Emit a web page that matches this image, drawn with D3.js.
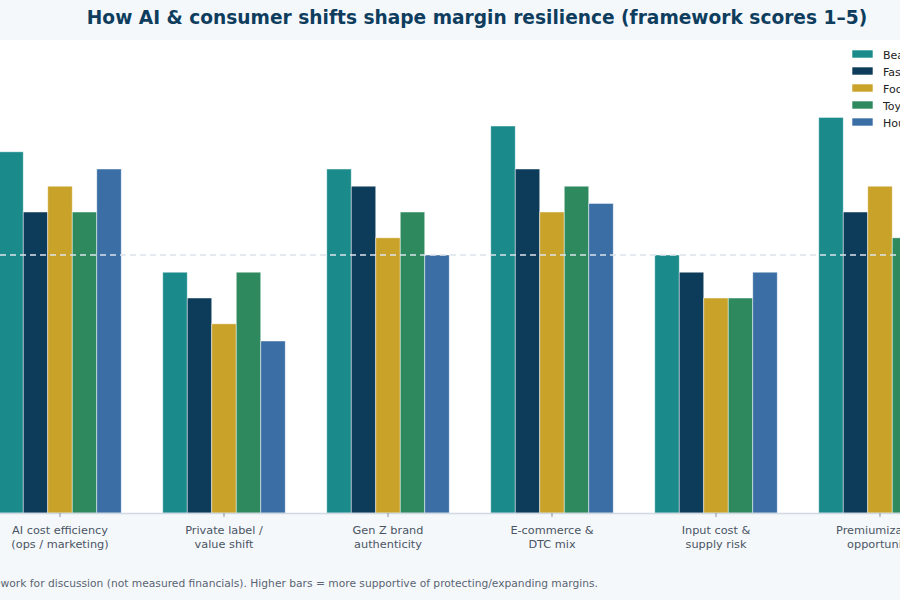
<!DOCTYPE html>
<html lang="en">
<head>
<meta charset="utf-8">
<title>Margin resilience framework</title>
<script src="https://d3js.org/d3.v7.min.js"></script>
<style>
  body { margin: 0; background: #f5f8fb; }
  svg { display: block; font-family: "DejaVu Sans", sans-serif; }
  .axis path { stroke: #cfd8e3; }
  .axis line { stroke: #8a939e; }
  .axis text { fill: #4a5563; font-size: 11.3px; font-family: "DejaVu Sans", sans-serif; }
</style>
</head>
<body>
<div id="chart"></div>
<script>
// categories (two-line tick labels)
const factors = [
  ["AI cost efficiency", "(ops / marketing)"],
  ["Private label /", "value shift"],
  ["Gen Z brand", "authenticity"],
  ["E-commerce &", "DTC mix"],
  ["Input cost &", "supply risk"],
  ["Premiumization", "opportunity"]
];
const sectors = ["Beauty & personal care", "Fashion & apparel", "Food & beverage", "Toys & games", "Household goods"];
const colors = ["#1b8a8a", "#0d3b5a", "#c9a22a", "#2e8a5e", "#3b6ea5"];

// scores per sector, in factor order
const beauty  = [4.2, 2.8, 4.0, 4.5, 3.0, 4.6];
const fashion = [3.5, 2.5, 3.8, 4.0, 2.8, 3.5];
const food    = [3.8, 2.2, 3.2, 3.5, 2.5, 3.8];
const toys    = [3.5, 2.8, 3.5, 3.8, 2.5, 3.2];
const home    = [4.0, 2.0, 3.0, 3.6, 2.8, 3.5];
const series = [beauty, fashion, food, toys, home];

const neutral = 3;

const width = 900, height = 600;
const plotTop = 40, plotBottom = 513;

const svg = d3.select("#chart").append("svg")
  .attr("width", width).attr("height", height);

// plot area background
svg.append("rect")
  .attr("x", 0).attr("y", plotTop)
  .attr("width", width).attr("height", plotBottom - plotTop)
  .attr("fill", "#ffffff");

const keys = factors.map(d => d.join(" "));

const x0 = d3.scaleBand()
  .domain(keys)
  .range([-22, 962])
  .paddingInner(0.253)
  .paddingOuter(0.1265);

const x1 = d3.scaleBand()
  .domain(d3.range(sectors.length))
  .range([0, x0.bandwidth()]);

const y = d3.scaleLinear()
  .domain([0, 5.5])
  .range([plotBottom, plotTop]);

// bars
const groups = svg.append("g").selectAll("g")
  .data(keys)
  .join("g")
  .attr("transform", d => `translate(${x0(d)},0)`);

groups.selectAll("rect")
  .data((d, i) => series.map((s, j) => ({ j, v: s[i] })))
  .join("rect")
  .attr("x", d => x1(d.j))
  .attr("width", x1.bandwidth())
  .attr("y", d => y(d.v))
  .attr("height", d => y(0) - y(d.v))
  .attr("fill", d => colors[d.j])
  .attr("stroke", "#ffffff")
  .attr("stroke-opacity", 0.6)
  .attr("stroke-width", 0.8);

// neutral reference line
svg.append("line")
  .attr("x1", 0).attr("x2", width)
  .attr("y1", y(neutral)).attr("y2", y(neutral))
  .attr("stroke", "#dde4ec")
  .attr("stroke-width", 1.3)
  .attr("stroke-dasharray", "6,4");

// x axis
const xAxis = svg.append("g")
  .attr("class", "axis")
  .attr("font-family", null)
  .attr("transform", `translate(0,${plotBottom})`)
  .call(d3.axisBottom(x0).tickSize(4).tickSizeOuter(0));

xAxis.select(".domain").attr("stroke", "#cfd8e3").attr("stroke-width", 1.5);
xAxis.selectAll(".tick text").each(function(d, i) {
  const t = d3.select(this).text(null).attr("y", 13);
  factors[i].forEach((line, k) => {
    t.append("tspan").attr("x", 0).attr("dy", k === 0 ? "0.71em" : "1.2em").text(line);
  });
});

// legend
const legend = svg.append("g").attr("transform", "translate(852,49)");
sectors.forEach((s, i) => {
  const row = legend.append("g").attr("transform", `translate(0,${i * 17})`);
  row.append("rect").attr("width", 21).attr("height", 8).attr("y", 1)
    .attr("fill", colors[i]).attr("stroke", "#ffffff").attr("stroke-width", 0.6);
  row.append("text").attr("x", 31).attr("y", 9.5)
    .attr("font-size", "11px").attr("fill", "#222").text(s);
});

// title
svg.append("text")
  .attr("x", 477).attr("y", 24)
  .attr("text-anchor", "middle")
  .attr("font-size", "18.6px")
  .attr("font-weight", "bold")
  .attr("fill", "#0e3d5e")
  .text("How AI & consumer shifts shape margin resilience (framework scores 1–5)");

// footnote
svg.append("text")
  .attr("x", 598).attr("y", 587)
  .attr("text-anchor", "end")
  .attr("font-size", "10.7px")
  .attr("fill", "#5a6472")
  .text("Illustrative framework for discussion (not measured financials). Higher bars = more supportive of protecting/expanding margins.");
</script>
</body>
</html>
